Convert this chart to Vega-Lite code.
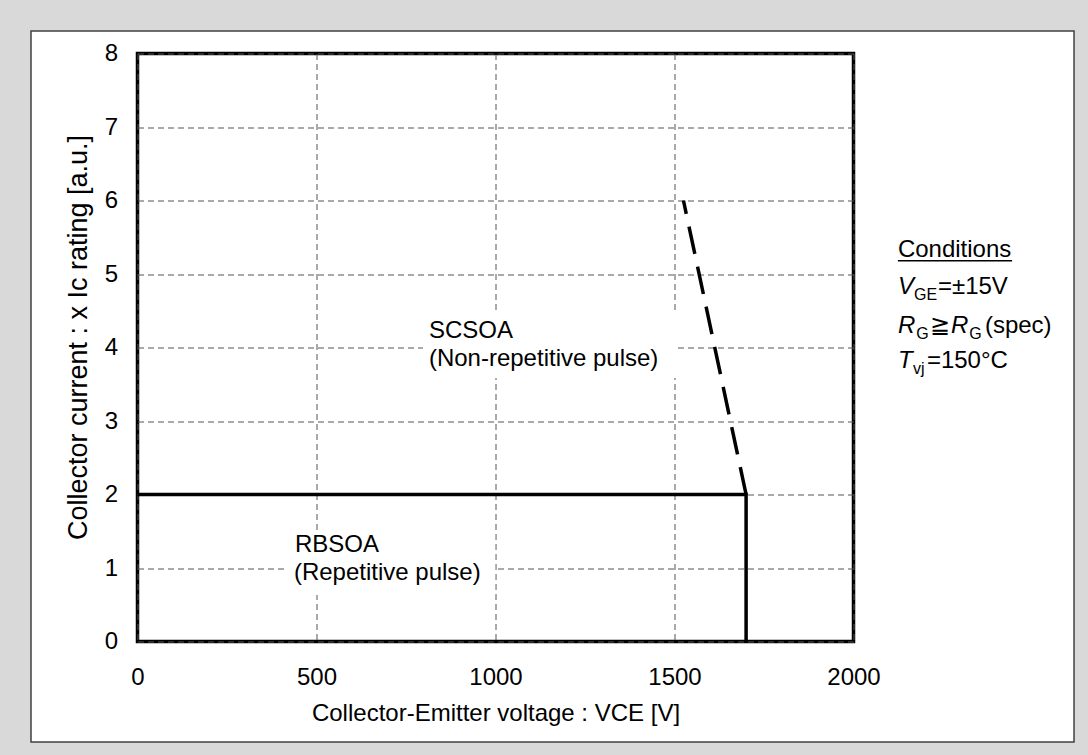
{
  "$schema": "https://vega.github.io/schema/vega-lite/v6.json",
  "width": 716,
  "height": 588,
  "autosize": {"type": "none"},
  "padding": {"left": 137.5, "top": 53.5, "right": 234.5, "bottom": 113.5},
  "background": "white",
  "config": {
    "view": {"stroke": "black", "strokeWidth": 3.5},
    "font": "Liberation Sans",
    "text": {"font": "Liberation Sans", "color": "black"}
  },
  "datasets": {
    "frame": [{"x": -409, "x2": 2728, "y": 8.85, "y2": -1.912}],
    "panel": [{"x": -297.5, "x2": 2616, "y": 8.306, "y2": -1.367}],
    "boxes": [
      {"x": 797.5, "x2": 1507, "y": 4.483, "y2": 3.585},
      {"x": 417.6, "x2": 999, "y": 1.517, "y2": 0.633}
    ],
    "rbsoa": [
      {"x": 0, "y": 2, "o": 1},
      {"x": 1700, "y": 2, "o": 2},
      {"x": 1700, "y": 0, "o": 3}
    ],
    "scsoa": [
      {"x": 1700, "y": 2, "o": 1},
      {"x": 1525, "y": 6, "o": 2}
    ],
    "labels": [
      {"t": "SCSOA", "x": 814, "y": 4.129},
      {"t": "(Non-repetitive pulse)", "x": 814, "y": 3.748},
      {"t": "RBSOA", "x": 440, "y": 1.222},
      {"t": "(Repetitive pulse)", "x": 437, "y": 0.837},
      {"t": "Conditions", "x": 2124, "y": 5.231},
      {"t": "=±15V", "x": 2236, "y": 4.728},
      {"t": "≧", "x": 2214, "y": 4.197},
      {"t": "(spec)", "x": 2367, "y": 4.197},
      {"t": "=150°C", "x": 2205, "y": 3.721}
    ],
    "italics": [
      {"t": "V", "x": 2124, "y": 4.728},
      {"t": "R", "x": 2124, "y": 4.197},
      {"t": "R", "x": 2272, "y": 4.197},
      {"t": "T", "x": 2124, "y": 3.721}
    ],
    "subs": [
      {"t": "GE", "x": 2169, "y": 4.646},
      {"t": "G", "x": 2175, "y": 4.116},
      {"t": "G", "x": 2323, "y": 4.116},
      {"t": "vj", "x": 2166, "y": 3.639}
    ],
    "underline": [{"x": 2124, "x2": 2443, "y": 5.181}]
  },
  "encoding": {
    "x": {
      "field": "x",
      "type": "quantitative",
      "scale": {"domain": [0, 2000], "nice": false, "zero": false},
      "axis": {
        "title": "Collector-Emitter voltage : VCE [V]",
        "values": [0, 500, 1000, 1500, 2000],
        "format": "d",
        "grid": true,
        "gridDash": [6, 4],
        "gridColor": "#555555",
        "gridWidth": 1,
        "domain": false,
        "ticks": false,
        "labelFont": "Liberation Sans",
        "labelFontSize": 24,
        "labelColor": "black",
        "labelPadding": 24,
        "labelFlush": false,
        "titleFont": "Liberation Sans",
        "titleFontSize": 24,
        "titleFontWeight": "normal",
        "titleColor": "black",
        "titlePadding": 12
      }
    },
    "y": {
      "field": "y",
      "type": "quantitative",
      "scale": {"domain": [0, 8], "nice": false, "zero": false},
      "axis": {
        "title": "Collector current : x Ic rating [a.u.]",
        "values": [0, 1, 2, 3, 4, 5, 6, 7, 8],
        "grid": true,
        "gridDash": [6, 4],
        "gridColor": "#555555",
        "gridWidth": 1,
        "domain": false,
        "ticks": false,
        "labelFont": "Liberation Sans",
        "labelFontSize": 24,
        "labelColor": "black",
        "labelPadding": 20,
        "labelFlush": false,
        "titleFont": "Liberation Sans",
        "titleFontSize": 27,
        "titleFontWeight": "normal",
        "titleColor": "black",
        "titlePadding": 12,
        "titleY": 283.5
      }
    }
  },
  "layer": [
    {
      "data": {"name": "frame"},
      "mark": {"type": "rect", "fill": "transparent", "stroke": "#d9d9d9", "strokeWidth": 80},
      "encoding": {"x2": {"field": "x2"}, "y2": {"field": "y2"}}
    },
    {
      "data": {"name": "panel"},
      "mark": {"type": "rect", "fill": "transparent", "stroke": "#404040", "strokeWidth": 1.5},
      "encoding": {"x2": {"field": "x2"}, "y2": {"field": "y2"}}
    },
    {
      "data": {"name": "boxes"},
      "mark": {"type": "rect", "fill": "white", "strokeWidth": 0},
      "encoding": {"x2": {"field": "x2"}, "y2": {"field": "y2"}}
    },
    {
      "data": {"name": "rbsoa"},
      "mark": {"type": "line", "color": "black", "strokeWidth": 3.5, "strokeJoin": "miter"},
      "encoding": {"order": {"field": "o", "type": "quantitative"}}
    },
    {
      "data": {"name": "scsoa"},
      "mark": {"type": "line", "color": "black", "strokeWidth": 3.5, "strokeDash": [28, 13]},
      "encoding": {"order": {"field": "o", "type": "quantitative"}}
    },
    {
      "data": {"name": "labels"},
      "mark": {"type": "text", "align": "left", "baseline": "alphabetic", "fontSize": 24, "font": "Liberation Sans", "color": "black"},
      "encoding": {"text": {"field": "t"}}
    },
    {
      "data": {"name": "italics"},
      "mark": {"type": "text", "align": "left", "baseline": "alphabetic", "fontSize": 24, "fontStyle": "italic", "font": "Liberation Sans", "color": "black"},
      "encoding": {"text": {"field": "t"}}
    },
    {
      "data": {"name": "subs"},
      "mark": {"type": "text", "align": "left", "baseline": "alphabetic", "fontSize": 16, "font": "Liberation Sans", "color": "black"},
      "encoding": {"text": {"field": "t"}}
    },
    {
      "data": {"name": "underline"},
      "mark": {"type": "rule", "color": "black", "strokeWidth": 1.5},
      "encoding": {"x2": {"field": "x2"}}
    }
  ]
}
